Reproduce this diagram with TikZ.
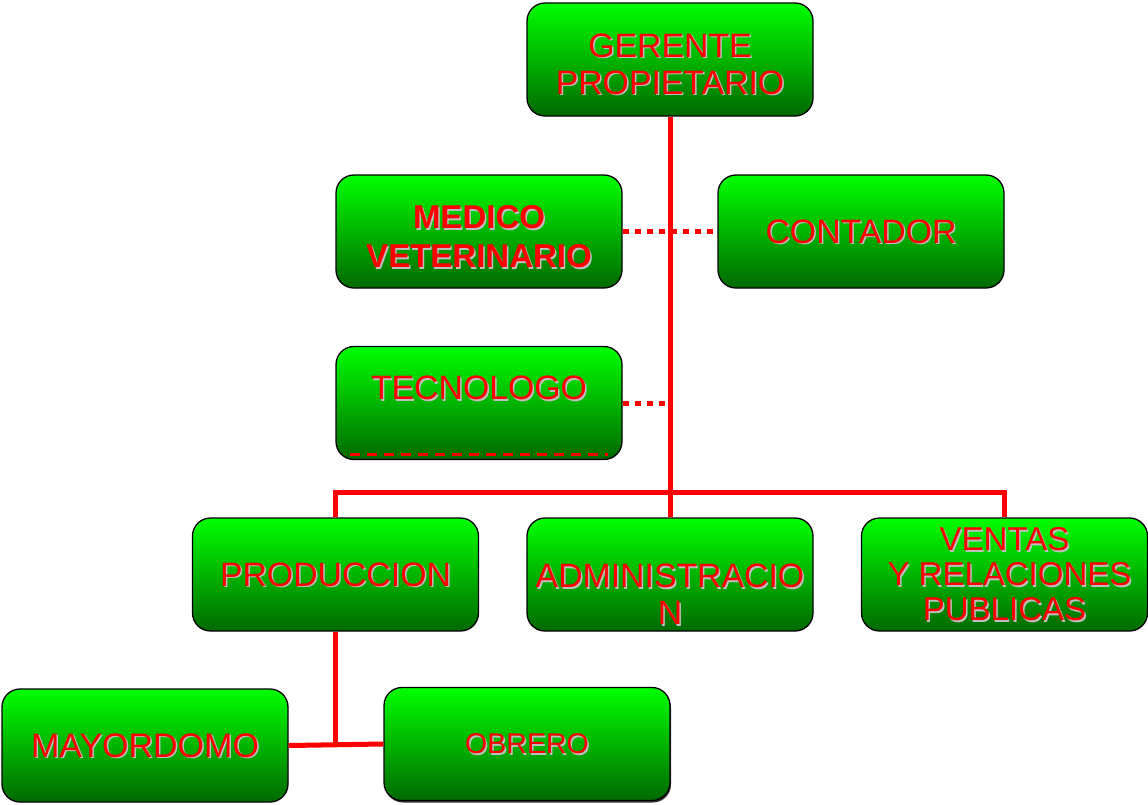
\documentclass[tikz,border=0pt]{standalone}
\usepackage{fontspec}
\setmainfont{Liberation Sans}
\usetikzlibrary{shadows}

\definecolor{verdeclaro}{RGB}{0,255,0}
\definecolor{verdemedio}{RGB}{0,205,0}
\definecolor{verdeoscuro}{RGB}{0,105,0}
\definecolor{rojo}{RGB}{255,0,0}
\definecolor{gris}{RGB}{190,190,190}

\newcommand\sombra[1]{\rlap{\kern1.5pt\raisebox{-1.5pt}[0pt][0pt]{\color{gris}#1}}#1}

\begin{document}
\begin{tikzpicture}[x=1pt,y=-1pt]
    \tikzstyle{caja}=[draw=black,line width=1.3pt,rounded corners=18pt,
        top color=verdeclaro,middle color=verdemedio,bottom color=verdeoscuro,
        minimum width=286pt,minimum height=113pt,inner sep=0pt,align=center,
        text=rojo,font=\fontsize{33.8}{37}\selectfont]
    \tikzstyle{linea}=[draw=rojo,line width=5pt]
    \tikzstyle{punteado}=[draw=rojo,line width=5pt,dash pattern=on 6.5pt off 5.5pt]

    \useasboundingbox (0,0) rectangle (1148,804);

    % Top
    \node[caja] (ger) at (670,59.5) {\mbox{}\\[-4pt]\sombra{GERENTE}\\\sombra{PROPIETARIO}};

    % Staff
    \node[caja,font=\fontsize{33}{39}\selectfont\bfseries] (med) at (479,231.5) {\mbox{}\\[-5pt]\sombra{MEDICO}\\\sombra{VETERINARIO}};
    \node[caja] (con) at (861,231.5) {\sombra{CONTADOR}};
    \node[caja,path picture={\draw[rojo,line width=3.5pt,dash pattern=on 10pt off 7pt]
        ([xshift=14pt,yshift=5pt]path picture bounding box.south west) --
        ([xshift=-14pt,yshift=5pt]path picture bounding box.south east);}]
        (tec) at (479,403) {\sombra{TECNOLOGO}\\[-7pt]\mbox{}};

    % Departments
    \node[caja] (pro) at (335.5,574.5) {\sombra{PRODUCCION}};
    \node[caja] (adm) at (670,574.5) {\mbox{}\\[26pt]\sombra{ADMINISTRACIO}\\\sombra{N}};
    \node[caja,font=\fontsize{33}{35}\selectfont] (ven) at (1004.5,574.5) {\sombra{VENTAS}\\\hspace{10pt}\sombra{Y RELACIONES}\\\sombra{PUBLICAS}};

    % Production
    \node[caja,font=\fontsize{34}{36}\selectfont] (may) at (145,745.5) {\sombra{MAYORDOMO}};
    \node[caja,font=\fontsize{28.5}{32}\selectfont,
        drop shadow={shadow xshift=1pt,shadow yshift=-2pt,fill=black,opacity=0.8}]
        (obr) at (527,744) {\sombra{OBRERO}};

    \coordinate (bus) at (670,492);

    % Lines
    \draw[linea] (ger.south) -- (adm.north);
    \draw[linea] (pro.north) |- (bus) -| (ven.north);
    \draw[punteado] (med.east) -- (con.west);
    \draw[punteado] (tec.east) -- (tec.east -| bus);
    \draw[linea] (pro.south) -- (pro.south |- may.east);
    \draw[linea] (may.east) -- (obr.west);
\end{tikzpicture}
\end{document}
